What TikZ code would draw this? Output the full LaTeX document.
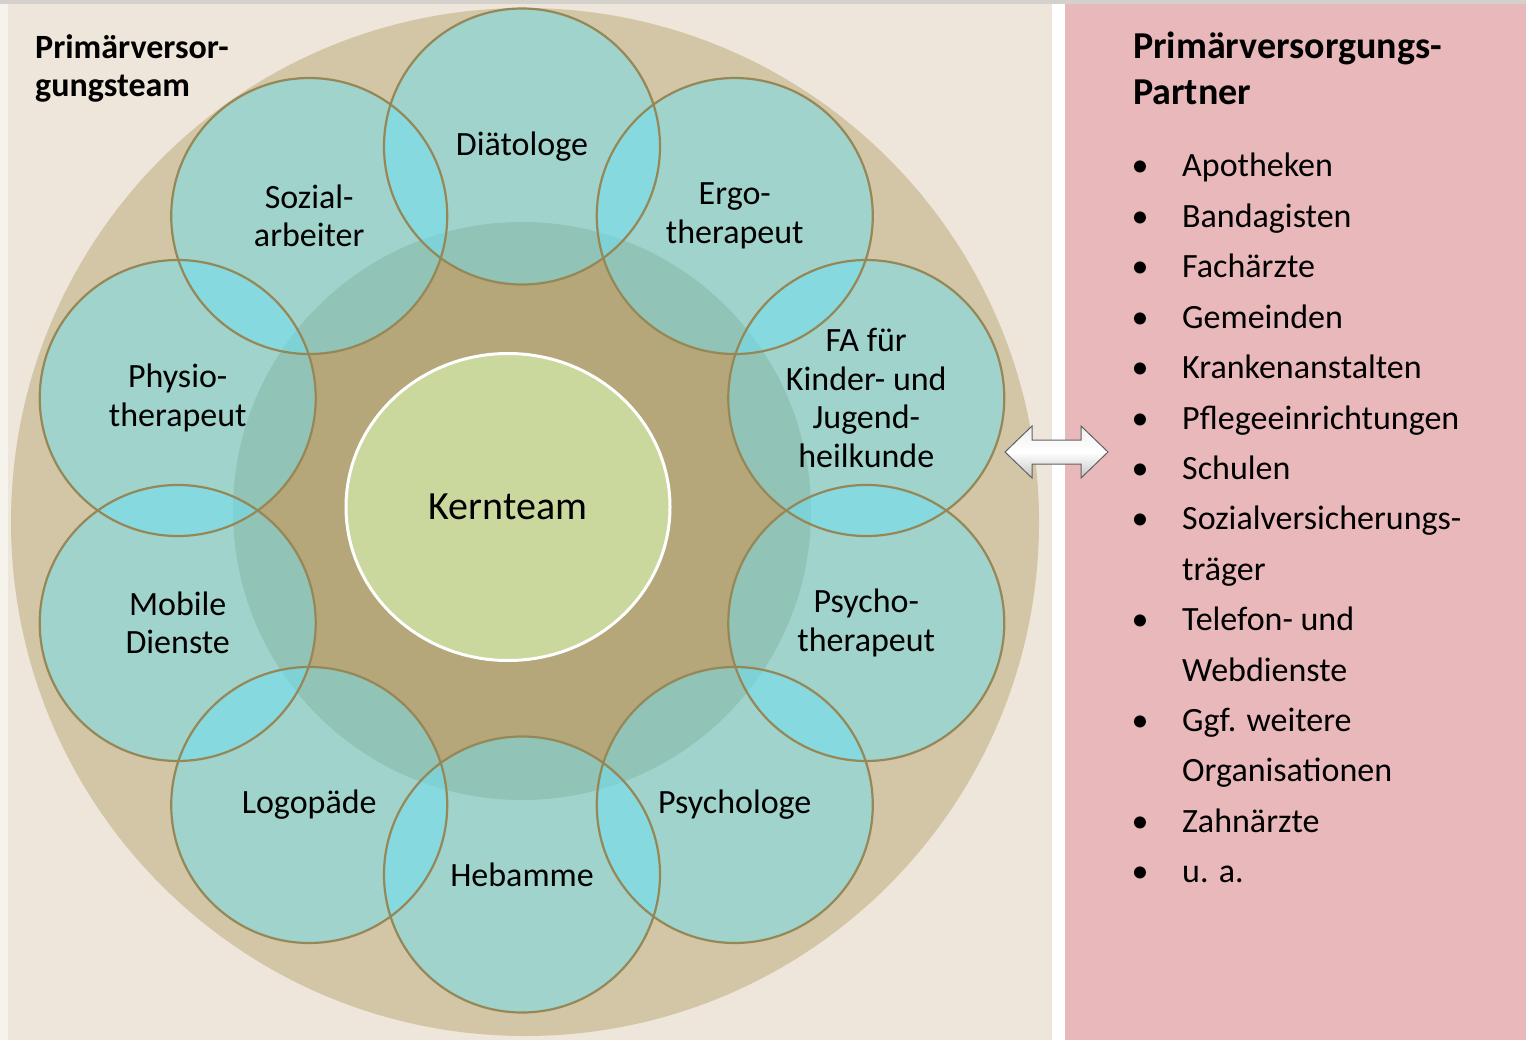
\documentclass[tikz,border=0pt]{standalone}
\usepackage{fontspec}
\setmainfont{Carlito}
\usetikzlibrary{shapes.geometric}
\definecolor{bgleft}{RGB}{238,230,218}
\definecolor{bgedge}{RGB}{246,242,236}
\definecolor{bgright}{RGB}{233,184,186}
\definecolor{tanout}{RGB}{211,198,167}
\definecolor{tanin}{RGB}{182,167,123}
\definecolor{cteal}{RGB}{109,224,242}
\definecolor{rim}{RGB}{150,136,86}
\definecolor{kerncol}{RGB}{202,216,157}
\definecolor{topline}{RGB}{212,209,205}
\begin{document}
\begin{tikzpicture}[x=1pt,y=-1pt,
  member/.style={circle, draw=rim, line width=2.2pt, minimum size=276pt, inner sep=0pt,
    align=center, font=\fontsize{34}{38.5}\selectfont},
  listtext/.style={anchor=base west, inner sep=0pt, font=\fontsize{34}{40}\selectfont},
  listbullet/.style={anchor=base, inner sep=0pt, font=\fontsize{34}{40}\selectfont},
  titletext/.style={anchor=base west, inner sep=0pt, font=\bfseries\fontsize{34}{38}\selectfont},
  titlebig/.style={anchor=base west, inner sep=0pt, font=\bfseries\fontsize{38}{46}\selectfont}]
\useasboundingbox (0,0) rectangle (1526,1040);
% backgrounds
\fill[white] (0,0) rectangle (1526,1040);
\fill[bgedge] (0,4) rectangle (8,1040);
\fill[bgleft] (8,4) rectangle (1052,1040);
\fill[bgright] (1065,4) rectangle (1526,1040);
\fill[topline] (0,0) rectangle (1526,4);
% big rings
\fill[tanout] (525,522) circle[radius=514pt];
\fill[tanin] (522,511) circle[radius=289pt];
% translucent fills of member circles
\foreach \a in {90,54,18,-18,-54,-90,-126,-162,162,126}
  \fill[cteal, fill opacity=0.5] ({522+362*cos(\a)},{510.5-364*sin(\a)}) circle[radius=138pt];
% member circles with borders and labels
\foreach \a/\n/\t in {90/dia/{Diätologe},
                      54/ergo/{Ergo-\\therapeut},
                      18/fa/{FA für\\Kinder- und\\Jugend-\\heilkunde},
                      -18/psyt/{Psycho-\\therapeut},
                      -54/psyl/{Psychologe},
                      -90/heb/{Hebamme},
                      -126/logo/{Logopäde},
                      -162/mob/{Mobile\\Dienste},
                      162/phys/{Physio-\\therapeut},
                      126/soz/{Sozial-\\arbeiter}}
  \node[member] (\n) at ({522+362*cos(\a)},{510.5-364*sin(\a)}) {\t};
% core
\node[ellipse, fill=kerncol, draw=white, line width=3pt, minimum width=324pt,
  minimum height=307pt, inner sep=0pt, font=\fontsize{40}{48}\selectfont]
  (kern) at (508,507) {\raisebox{-3pt}{Kernteam}};
% left title
\node[titletext] (lt1) at (35,59) {Primärversor-};
\node[titletext] (lt2) at (35,97) {gungsteam};
% right title
\node[titlebig] (rt1) at (1133,59) {Primärversorgungs-};
\node[titlebig] (rt2) at (1133,105) {Partner};
% list
\foreach \t [count=\k from 0] in {Apotheken, Bandagisten, Fachärzte, Gemeinden,
    Krankenanstalten, Pflegeeinrichtungen, Schulen, Sozialversicherungs-, träger,
    Telefon- und, Webdienste, Ggf. weitere, Organisationen, Zahnärzte, u. a.}
  \node[listtext] (li\k) at (1182,{177+50.4*\k}) {\t};
\foreach \k in {0,1,2,3,4,5,6,7,9,11,13,14}
  \node[listbullet] (bu\k) at (1140,{177+50.4*\k}) {•};
% double arrow between the panels
\draw[draw=gray!75!black, line width=1pt, top color=gray!12, bottom color=gray!45, middle color=white]
  (1005,452) -- (1032,426) -- (1032,440) -- (1081,440) -- (1081,426) -- (1108,452)
  -- (1081,478) -- (1081,464) -- (1032,464) -- (1032,478) -- cycle;
\end{tikzpicture}
\end{document}
